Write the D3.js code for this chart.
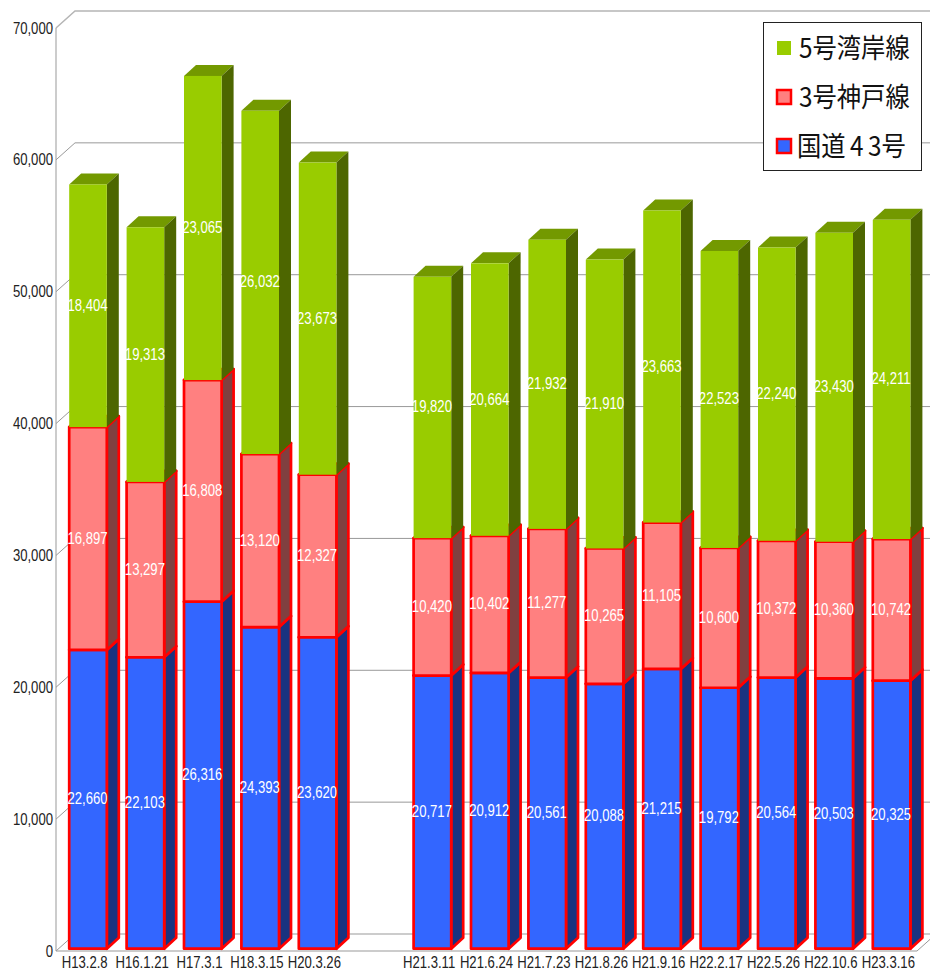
<!DOCTYPE html>
<html>
<head>
<meta charset="utf-8">
<script src="https://cdn.jsdelivr.net/npm/d3@7"></script>
<style>
  html, body { margin: 0; padding: 0; background: #fff; }
  svg { display: block; }
  text { font-family: "Liberation Sans", sans-serif; }
</style>
</head>
<body>
<script>

  // "" is the empty slot between the two groups of surveys
  var dates = ["H13.2.8", "H16.1.21", "H17.3.1", "H18.3.15", "H20.3.26", "",
    "H21.3.11", "H21.6.24", "H21.7.23", "H21.8.26", "H21.9.16",
    "H22.2.17", "H22.5.26", "H22.10.6", "H23.3.16"];

  var route43 = [22660, 22103, 26316, 24393, 23620, null,
    20717, 20912, 20561, 20088, 21215, 19792, 20564, 20503, 20325];
  var route3 = [16897, 13297, 16808, 13120, 12327, null,
    10420, 10402, 11277, 10265, 11105, 10600, 10372, 10360, 10742];
  var route5 = [18404, 19313, 23065, 26032, 23673, null,
    19820, 20664, 21932, 21910, 23663, 22523, 22240, 23430, 24211];

  var yTicks = [0, 10000, 20000, 30000, 40000, 50000, 60000, 70000];
  var legendNames = ["5号湾岸線", "3号神戸線", "国道43号"];

  var width = 930, height = 971;
  var wallDx = 19, wallDy = -17;  // depth of the chart box
  var barDx = 12, barDy = -11;    // depth of one bar

  var svg = d3.select("body").append("svg")
      .attr("width", width)
      .attr("height", height);

  var x = d3.scaleBand().domain(d3.range(dates.length)).range([56, 917]);
  var y = d3.scaleLinear().domain([0, 70000]).range([951, 28]);
  var barW = 37.6;
  var fmt = d3.format(",");

  // back wall and left wall lines
  var grid = svg.append("g").attr("fill", "none").attr("stroke", "#999");
  yTicks.forEach(function(t) {
    grid.append("path")
      .attr("stroke", t === 70000 ? "#b5b5b5" : "#999")
      .attr("stroke-width", t === 70000 ? 1.5 : 1)
      .attr("d", d3.line()([[56, y(t)], [56 + wallDx, y(t) + wallDy], [width, y(t) + wallDy]]));
  });
  grid.append("path").attr("d", d3.line()([[56, y(70000)], [56, y(0)], [917, y(0)], [917 + wallDx, y(0) + wallDy]]));

  svg.append("g").selectAll("text")
    .data(yTicks)
    .enter().append("text")
      .attr("transform", function(d) { return "translate(53," + (y(d) + 5.5) + ") scale(0.82,1)"; })
      .attr("text-anchor", "end")
      .attr("font-size", 16)
      .attr("fill", "#222")
      .text(fmt);

  svg.append("g").selectAll("text")
    .data(dates)
    .enter().append("text")
      .attr("transform", function(d, i) { return "translate(" + (x(i) + x.bandwidth() / 2) + ",967.5) scale(0.82,1)"; })
      .attr("text-anchor", "middle")
      .attr("font-size", 16)
      .attr("fill", "#222")
      .text(function(d) { return d; });

  var series = [
    { values: route43, front: "#3366ff", top: "#264db8", side: "#1a3380", stroke: "#ff0000" },
    { values: route3, front: "#ff8080", top: "#804040", side: "#804040", stroke: "#ff0000" },
    { values: route5, front: "#99cc00", top: "#739900", side: "#4d6600", stroke: null }
  ];

  var labels = [];

  dates.forEach(function(d, i) {
    if (d === "") return;
    var left = x(i) + (x.bandwidth() - 38) / 2 + (wallDx - barDx) / 2;
    var right = left + barW;
    var base = 0;
    series.forEach(function(s) {
      var v = s.values[i];
      var y0 = y(base) - 2.3, y1 = y(base + v) - 2.3;
      var g = svg.append("g")
        .attr("stroke", s.stroke || "none")
        .attr("stroke-width", s.stroke ? 2.7 : 0)
        .attr("stroke-linejoin", "round");
      g.append("path").attr("fill", s.top)
        .attr("d", d3.line()([[left, y1], [left + barDx, y1 + barDy], [right + barDx, y1 + barDy], [right, y1]]) + "Z");
      g.append("path").attr("fill", s.side)
        .attr("d", d3.line()([[right, y1], [right + barDx, y1 + barDy], [right + barDx, y0 + barDy], [right, y0]]) + "Z");
      g.append("rect").attr("fill", s.front)
        .attr("x", left).attr("y", y1).attr("width", barW).attr("height", y0 - y1);
      labels.push({ x: (left + right) / 2 - 0.5, y: (y0 + y1) / 2, v: v });
      base += v;
    });
  });

  // value labels sit above all the bars
  svg.append("g").selectAll("text")
    .data(labels)
    .enter().append("text")
      .attr("transform", function(d) { return "translate(" + d.x + "," + (d.y + 5) + ") scale(0.82,1)"; })
      .attr("text-anchor", "middle")
      .attr("font-size", 16)
      .attr("fill", "#fff")
      .text(function(d) { return fmt(d.v); });

  // legend
  var legend = svg.append("g");
  legend.append("rect")
    .attr("x", 763.5).attr("y", 22.5).attr("width", 158).attr("height", 148)
    .attr("fill", "#fff").attr("stroke", "#222");

  var swatches = [series[2], series[1], series[0]];
  var rowY = d3.scalePoint().domain(d3.range(3)).range([48, 146]);
  legendNames.forEach(function(name, i) {
    var s = swatches[i];
    legend.append("rect")
      .attr("x", 777).attr("y", rowY(i) - 7).attr("width", 14).attr("height", 14)
      .attr("fill", s.front)
      .attr("stroke", s.stroke || "none")
      .attr("stroke-width", s.stroke ? 2.5 : 0);
    var label = legend.append("text")
      .attr("transform", "translate(" + (i === 2 ? 797 : 799) + "," + (rowY(i) + 10) + ") scale(0.9,1)")
      .attr("font-size", 27)
      .attr("fill", "#111")
      .style("font-family", '"Noto Sans CJK JP", sans-serif');
    // digits in the middle of a name are spaced out
    name.split("").forEach(function(ch, k) {
      label.append("tspan")
        .attr("dx", /[0-9]/.test(ch) && k > 0 ? 5 : 0)
        .text(ch);
    });
  });
</script>
</body>
</html>
